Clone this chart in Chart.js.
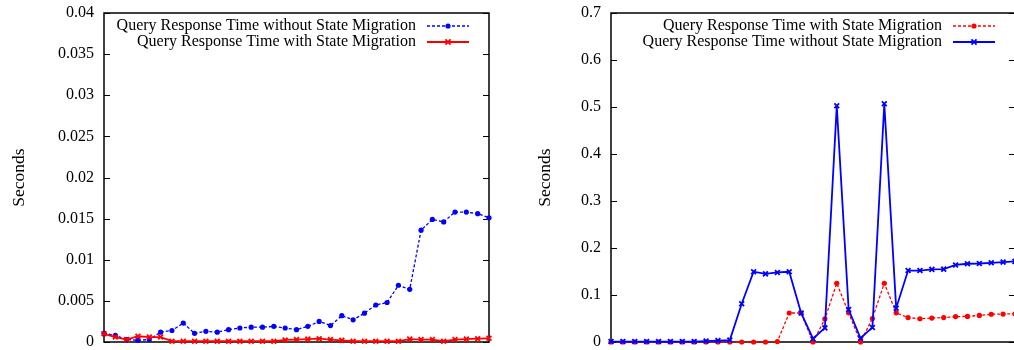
<!DOCTYPE html>
<html>
<head>
<meta charset="utf-8">
<script src="https://cdn.jsdelivr.net/npm/chart.js@4/dist/chart.umd.min.js"></script>
<style>
body { margin: 0; background: #fff; overflow: hidden; width: 1014px; height: 350px; position: relative; }
canvas { position: absolute; top: 0; }
#leftChart { left: 0; }
#rightChart { left: 507px; }
</style>
</head>
<body>
<canvas id="leftChart" width="507" height="350"></canvas>
<canvas id="rightChart" width="520" height="350"></canvas>
<script>
// 35 measurement steps, no x labels visible in the picture
const steps = [];
for (let i = 1; i <= 35; i++) steps.push(String(i));

const leftWithout = [0.00105, 0.0008, 0.0003, 0.0002, 0.0003, 0.0012, 0.0014, 0.0023, 0.00105, 0.0013,
    0.0012, 0.0015, 0.0017, 0.0018, 0.0018, 0.0019, 0.0017, 0.0015, 0.0019, 0.0025,
    0.002, 0.0032, 0.0027, 0.0035, 0.0045, 0.0048, 0.0069, 0.0064, 0.0136, 0.0149,
    0.0146, 0.0158, 0.0158, 0.0156, 0.0151];
const leftWith = [0.001, 0.0006, 0.0003, 0.0007, 0.0006, 0.0006, 0.0001, 0.0001, 0.0001, 0.0001,
    0.0001, 0.0001, 0.0001, 0.0001, 0.0001, 0.0001, 0.00025, 0.0003, 0.00035, 0.0004,
    0.0003, 0.0002, 0.0001, 0.0001, 0.0001, 0.0001, 0.0001, 0.00035, 0.0003, 0.0003,
    0.0001, 0.0003, 0.00035, 0.0004, 0.00045];
const leftTicks = ['0', '0.005', '0.01', '0.015', '0.02', '0.025', '0.03', '0.035', '0.04'];

const rightWith = [0, 0, 0, 0, 0, 0, 0, 0, 0, 0,
    0, 0, 0, 0, 0.001, 0.0617, 0.0617, 0, 0.049, 0.125,
    0.062, 0, 0.05, 0.125, 0.062, 0.052, 0.0495, 0.051, 0.052, 0.054,
    0.0545, 0.0565, 0.059, 0.0595, 0.06];
const rightWithout = [0.001, 0.001, 0.001, 0.001, 0.001, 0.001, 0.001, 0.001, 0.002, 0.003,
    0.004, 0.0815, 0.1495, 0.145, 0.148, 0.1495, 0.0617, 0.007, 0.03, 0.5025,
    0.069, 0.008, 0.031, 0.507, 0.072, 0.152, 0.152, 0.1545, 0.155, 0.164,
    0.1665, 0.167, 0.1685, 0.17, 0.1715];
const rightTicks = ['0', '0.1', '0.2', '0.3', '0.4', '0.5', '0.6', '0.7'];

const serif = 'Liberation Serif';

// gnuplot style frame, inward ticks and key
const gnuFrame = {
    id: 'gnuFrame',
    beforeDatasetsDraw(chart) {
        const a = chart.chartArea, ctx = chart.ctx, y = chart.scales.y;
        ctx.save();
        ctx.strokeStyle = '#000';
        ctx.lineWidth = 1.5;
        ctx.strokeRect(a.left, a.top, a.right - a.left, a.bottom - a.top);
        ctx.lineWidth = 1;
        ctx.beginPath();
        y.ticks.forEach(function (t) {
            const py = Math.round(y.getPixelForValue(t.value)) + 0.5;
            ctx.moveTo(a.left, py); ctx.lineTo(a.left + 6, py);
            ctx.moveTo(a.right, py); ctx.lineTo(a.right - 6, py);
        });
        ctx.stroke();
        ctx.restore();
    },
    afterDraw(chart) {
        const a = chart.chartArea, ctx = chart.ctx;
        ctx.save();
        chart.data.datasets.forEach(function (ds, i) {
            const ry = a.top + 13 + i * 16;
            ctx.font = '16px "' + serif + '"';
            ctx.fillStyle = '#000';
            ctx.textAlign = 'right';
            ctx.textBaseline = 'middle';
            ctx.fillText(ds.label, a.right - 73, ry);
            ctx.strokeStyle = ds.borderColor;
            ctx.lineWidth = ds.borderWidth;
            ctx.setLineDash(ds.borderDash || []);
            ctx.beginPath();
            ctx.moveTo(a.right - 62, ry);
            ctx.lineTo(a.right - 20, ry);
            ctx.stroke();
            ctx.setLineDash([]);
            const mx = a.right - 41;
            if (ds.pointStyle === 'circle') {
                ctx.fillStyle = ds.borderColor;
                ctx.beginPath();
                ctx.arc(mx, ry, ds.pointRadius, 0, Math.PI * 2);
                ctx.fill();
            } else {
                const r = ds.pointRadius * 0.75;
                ctx.lineWidth = ds.pointBorderWidth;
                ctx.beginPath();
                ctx.moveTo(mx - r, ry - r); ctx.lineTo(mx + r, ry + r);
                ctx.moveTo(mx - r, ry + r); ctx.lineTo(mx + r, ry - r);
                ctx.stroke();
            }
        });
        ctx.restore();
    }
};

function dotted(label, data, color, order) {
    return {
        label: label, data: data, borderColor: color, backgroundColor: color,
        borderWidth: 1.3, borderDash: [3, 2], pointStyle: 'circle', pointRadius: 2.6,
        pointBorderWidth: 0, tension: 0, clip: false, order: order
    };
}

function crossed(label, data, color, order) {
    return {
        label: label, data: data, borderColor: color, backgroundColor: color,
        borderWidth: 1.8, pointStyle: 'crossRot', pointRadius: 3.4,
        pointBorderWidth: 1.8, tension: 0, clip: false, order: order
    };
}

function makeChart(id, datasets, max, step, tickLabels, titlePad, rightPad) {
    return new Chart(document.getElementById(id), {
        type: 'line',
        data: { labels: steps, datasets: datasets },
        options: {
            responsive: false,
            animation: false,
            devicePixelRatio: 1,
            layout: { autoPadding: false, padding: { left: 0, right: rightPad, top: 13, bottom: 8 } },
            plugins: { legend: { display: false }, tooltip: { enabled: false } },
            scales: {
                x: { display: false, offset: false },
                y: {
                    min: 0,
                    max: max,
                    ticks: {
                        stepSize: step,
                        color: '#000',
                        padding: 10,
                        font: { family: serif, size: 16 },
                        callback: function (value, index) { return tickLabels[index]; }
                    },
                    grid: { display: false, drawTicks: false },
                    border: { display: false },
                    title: {
                        display: true,
                        text: 'Seconds',
                        color: '#000',
                        font: { family: serif, size: 17.5 },
                        padding: { top: titlePad, bottom: 0 }
                    },
                    afterFit: function (s) { s.width = 104; s.paddingTop = 0; s.paddingBottom = 0; }
                }
            }
        },
        plugins: [gnuFrame]
    });
}

makeChart('leftChart', [
    dotted('Query Response Time without State Migration', leftWithout, '#0000ff', 1),
    crossed('Query Response Time with State Migration', leftWith, '#ff0000', 0)
], 0.04, 0.005, leftTicks, 9, 18);

makeChart('rightChart', [
    dotted('Query Response Time with State Migration', rightWith, '#ff0000', 1),
    crossed('Query Response Time without State Migration', rightWithout, '#0000ff', 0)
], 0.7, 0.1, rightTicks, 28, 12);
</script>
</body>
</html>
